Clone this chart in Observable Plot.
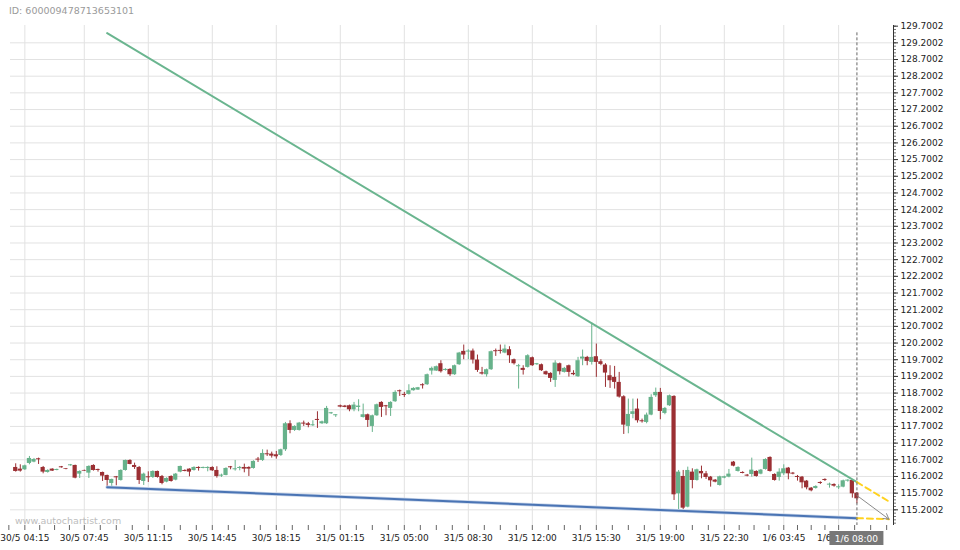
<!DOCTYPE html>
<html>
<head>
<meta charset="utf-8">
<script src="https://cdn.jsdelivr.net/npm/d3@7"></script>
<script src="https://cdn.jsdelivr.net/npm/@observablehq/plot@0.6"></script>
<style>
  html, body { margin: 0; padding: 0; background: #fff; }
  #chart { width: 960px; height: 550px; }
</style>
</head>
<body>
<div id="chart"></div>
<script>
// ---- Data (x = bar index, 15-minute bars) ----
const opens = [116.47,116.42,116.40,116.59,116.63,116.73,116.47,116.32,116.42,116.38,
  116.49,116.43,116.52,116.53,116.27,116.38,116.30,116.53,116.41,116.32,
  116.23,115.99,116.19,116.08,116.38,116.68,116.53,116.47,116.05,116.19,
  116.17,116.35,116.20,116.03,116.20,116.09,116.33,116.38,116.42,116.38,
  116.47,116.44,116.44,116.47,116.38,116.21,116.23,116.49,116.40,116.44,
  116.47,116.47,116.44,116.72,116.68,116.88,116.87,116.85,116.83,117.00,
  117.78,117.58,117.58,117.80,117.78,117.72,117.91,117.78,117.78,118.08,
  118.02,118.32,118.31,118.32,118.20,118.27,117.97,118.05,117.70,118.02,
  118.42,118.32,118.24,118.44,118.77,118.66,118.66,118.77,118.79,118.95,
  118.95,119.36,119.36,119.58,119.38,119.41,119.25,119.55,119.95,119.93,
  119.96,119.69,119.31,119.25,119.40,119.97,119.98,119.90,120.00,119.70,
  119.49,119.44,119.47,119.76,119.55,119.55,119.34,119.29,119.08,119.58,
  119.32,119.52,119.29,119.19,119.72,119.77,119.62,119.79,119.64,119.54,
  119.22,119.17,119.02,118.59,117.70,118.06,118.22,117.87,117.82,118.04,
  118.62,118.72,118.09,118.32,118.60,115.68,116.20,115.28,116.33,116.08,
  116.35,116.28,116.18,116.09,115.93,116.15,116.18,116.63,116.35,116.32,
  116.24,116.26,116.35,116.27,116.41,116.77,116.26,116.17,116.28,116.45,
  116.30,116.20,116.18,116.06,115.85,115.84,116.02,116.11,115.94,115.96,
  115.86,115.88,116.06,116.08,115.70];
const highs = [116.58,116.55,116.54,116.80,116.74,116.75,116.50,116.40,116.43,116.42,
  116.50,116.44,116.56,116.54,116.37,116.39,116.52,116.55,116.42,116.33,
  116.24,116.12,116.20,116.40,116.69,116.70,116.60,116.50,116.30,116.34,
  116.37,116.36,116.23,116.16,116.22,116.29,116.51,116.40,116.43,116.49,
  116.49,116.48,116.49,116.49,116.49,116.27,116.46,116.50,116.68,116.50,
  116.57,116.49,116.67,116.77,117.00,116.99,116.93,116.95,117.02,117.82,
  117.87,117.72,117.82,117.86,117.82,117.87,118.14,117.86,118.30,118.12,
  118.05,118.34,118.33,118.34,118.42,118.50,118.37,118.07,118.04,118.37,
  118.44,118.33,118.44,118.77,118.79,118.72,118.95,118.86,118.87,118.98,
  119.27,119.48,119.51,119.67,119.43,119.43,119.54,119.92,120.14,120.00,
  120.02,119.84,119.47,119.42,119.96,120.02,120.14,120.14,120.09,119.72,
  119.56,119.52,119.85,119.78,119.59,119.57,119.36,119.31,119.67,119.60,
  119.47,119.54,119.37,119.77,119.99,119.80,120.80,120.17,119.70,119.58,
  119.52,119.50,119.32,118.62,118.52,118.52,118.52,117.92,118.10,118.65,
  118.85,118.84,118.27,118.64,118.62,116.38,116.38,116.48,116.43,116.42,
  116.51,116.35,116.20,116.11,116.21,116.21,116.41,116.65,116.49,116.34,
  116.26,116.75,116.37,116.41,116.73,116.79,116.28,116.43,116.55,116.47,
  116.32,116.23,116.20,116.08,115.87,115.92,116.04,116.13,116.00,115.98,
  115.95,116.09,116.10,116.10,115.72];
const lows = [116.33,116.33,116.38,116.55,116.61,116.56,116.28,116.30,116.35,116.37,
  116.45,116.40,116.51,116.13,116.14,116.35,116.14,116.36,116.33,116.05,
  115.89,115.90,115.92,116.06,116.36,116.55,116.41,115.96,115.93,116.02,
  116.14,116.15,115.95,116.01,116.03,116.07,116.31,116.34,116.19,116.36,
  116.36,116.43,116.34,116.35,116.15,116.17,116.22,116.40,116.36,116.37,
  116.31,116.20,116.42,116.62,116.65,116.80,116.75,116.72,116.80,116.95,
  117.48,117.55,117.56,117.70,117.66,117.70,117.64,117.76,117.76,118.06,
  117.97,118.26,118.26,118.14,118.14,118.14,117.95,117.67,117.52,118.00,
  117.97,118.02,118.00,118.42,118.60,118.57,118.64,118.76,118.78,118.82,
  118.93,119.24,119.35,119.30,119.36,119.20,119.23,119.53,119.70,119.70,
  119.57,119.32,119.24,119.18,119.38,119.80,119.87,119.88,119.59,119.54,
  118.82,119.24,119.45,119.50,119.53,119.35,119.23,119.02,118.87,119.24,
  119.30,119.18,119.22,119.17,119.52,119.52,119.54,119.17,119.52,118.87,
  118.84,118.82,118.55,117.46,117.48,117.93,117.80,117.80,117.78,118.02,
  118.57,117.90,118.05,118.30,115.48,115.21,115.20,115.26,115.83,116.06,
  116.13,116.11,115.88,116.01,115.91,116.13,116.16,116.49,116.33,116.28,
  116.19,116.18,116.18,116.25,116.39,116.33,116.06,116.06,116.23,116.10,
  116.25,116.06,115.83,115.80,115.74,115.82,115.96,116.05,115.85,115.88,
  115.81,115.86,116.03,115.55,115.38];
const closes = [116.35,116.36,116.52,116.74,116.71,116.70,116.33,116.38,116.36,116.41,
  116.46,116.41,116.55,116.15,116.35,116.36,116.50,116.38,116.38,116.21,
  116.08,116.11,116.16,116.38,116.68,116.56,116.47,116.08,116.27,116.16,
  116.35,116.17,115.99,116.14,116.05,116.27,116.50,116.35,116.33,116.47,
  116.44,116.47,116.47,116.37,116.20,116.24,116.44,116.46,116.43,116.47,
  116.42,116.42,116.65,116.69,116.89,116.85,116.81,116.79,117.00,117.78,
  117.58,117.70,117.80,117.77,117.73,117.75,117.88,117.84,118.24,118.11,
  118.05,118.28,118.27,118.20,118.34,118.31,118.05,117.88,118.02,118.35,
  118.27,118.29,118.42,118.72,118.74,118.63,118.77,118.84,118.86,118.92,
  119.25,119.44,119.49,119.34,119.41,119.25,119.52,119.90,119.84,119.96,
  119.69,119.38,119.27,119.40,119.94,119.94,119.95,120.02,119.82,119.58,
  119.52,119.38,119.82,119.52,119.58,119.37,119.25,119.14,119.60,119.34,
  119.44,119.32,119.25,119.67,119.78,119.65,119.77,119.62,119.56,119.30,
  119.07,119.02,118.58,117.74,118.06,118.14,117.87,117.84,118.04,118.57,
  118.72,118.15,118.24,118.62,115.65,116.33,115.25,116.38,116.08,116.40,
  116.28,116.17,116.07,116.03,116.19,116.19,116.27,116.51,116.47,116.29,
  116.21,116.39,116.20,116.39,116.71,116.35,116.08,116.33,116.43,116.28,
  116.27,116.17,116.01,115.86,115.77,115.90,115.99,116.08,115.97,115.91,
  115.89,116.07,116.09,115.68,115.53];

// x-axis tick labels and their bar indices
const tickLabels = ["30/5 04:15","30/5 07:45","30/5 11:15","30/5 14:45","30/5 18:15",
  "31/5 01:15","31/5 05:00","31/5 08:30","31/5 12:00","31/5 15:30","31/5 19:00",
  "31/5 22:30","1/6 03:45","1/6 07:00"];
const tickIndex = [2,15,29,43,57,71,85,99,113,127,141,155,168,180];

// y-axis tick labels
const yTicks = [115.2002,115.7002,116.2002,116.7002,117.2002,117.7002,118.2002,118.7002,
  119.2002,119.7002,120.2002,120.7002,121.2002,121.7002,122.2002,122.7002,123.2002,
  123.7002,124.2002,124.7002,125.2002,125.7002,126.2002,126.7002,127.2002,127.7002,
  128.2002,128.7002,129.2002,129.7002];

// trend lines (bar index, price)
const trendX = [20, 184];
const resistance = [129.49, 116.03];
const support = [115.88, 114.95];
const projX = [184, 191];
const projResistance = [116.03, 115.45];
const projSupport = [114.95, 114.92];
const forecast = [115.63, 114.92];
const currentIndex = 184;
const currentLabel = "1/6 08:00";
const chartId = "ID: 600009478713653101";
const watermark = "www.autochartist.com";

// ---- Build ----
const GREEN = "#67b28b", RED = "#9b2f33";
const candles = opens.map((o, i) => ({i, o, h: highs[i], l: lows[i], c: closes[i], up: closes[i] >= o}));
const xDomain = [-1.14, 192.0];
const yDomain = [114.73, 129.72];

const minorX = [];
for (let k = 0; k < tickIndex.length; k++) {
  const a = tickIndex[k], b = k + 1 < tickIndex.length ? tickIndex[k + 1] : a + 14;
  for (let s = 1; s < 4; s++) { const v = a + (b - a) * s / 4; if (v < xDomain[1]) minorX.push(v); }
}
minorX.unshift(tickIndex[0] - 3.5);
const minorY = d3.range(0, 150).map(k => 114.8002 + 0.1 * k).filter(v => v < yDomain[1]);

const line = (xs, ys) => xs.map((x, k) => ({x, y: ys[k]}));

const plot = Plot.plot({
  width: 960, height: 550,
  marginLeft: 10, marginRight: 67, marginTop: 25, marginBottom: 25,
  x: {domain: xDomain, axis: null},
  y: {domain: yDomain, axis: null},
  style: {fontFamily: "DejaVu Sans, sans-serif", background: "#fff", overflow: "visible"},
  marks: [
    Plot.gridY(yTicks.slice(0, -1), {stroke: "#e2e2e2", strokeOpacity: 1}),
    Plot.gridX(tickIndex, {stroke: "#e2e2e2", strokeOpacity: 1}),
    Plot.ruleX(candles, {x: "i", y1: "l", y2: "h", stroke: d => d.up ? GREEN : RED, strokeWidth: 1}),
    Plot.rect(candles, {
      x1: d => d.i - 0.46, x2: d => d.i + 0.46,
      y1: d => Math.min(d.o, d.c), y2: d => Math.max(d.o, d.c),
      fill: d => d.up ? GREEN : RED
    }),
    Plot.line(line(trendX, resistance), {x: "x", y: "y", stroke: "#6ab58f", strokeWidth: 2}),
    Plot.line(line(trendX, support), {x: "x", y: "y", stroke: "#c9d6ea", strokeWidth: 3.5}),
    Plot.line(line(trendX, support), {x: "x", y: "y", stroke: "#4a74b4", strokeWidth: 2}),
    Plot.line(line(projX, projResistance), {x: "x", y: "y", stroke: "#ffd21f", strokeWidth: 2, strokeDasharray: "6,4"}),
    Plot.line(line(projX, projSupport), {x: "x", y: "y", stroke: "#ffd21f", strokeWidth: 2, strokeDasharray: "6,4"}),
    Plot.arrow([{x1: projX[0], y1: forecast[0], x2: projX[1], y2: forecast[1]}],
      {x1: "x1", y1: "y1", x2: "x2", y2: "y2", stroke: "#8a8a8a", strokeWidth: 1, headLength: 9}),
    Plot.ruleX([currentIndex], {y1: 129.5, y2: yDomain[0], stroke: "#666", strokeDasharray: "3,2", strokeWidth: 1}),
    Plot.ruleX([xDomain[1]], {stroke: "#333", strokeWidth: 1}),
    Plot.axisY({anchor: "right", ticks: minorY, tickSize: 2, tickFormat: () => "", stroke: "#777", label: null}),
    Plot.axisY({anchor: "right", ticks: yTicks, tickSize: 4, tickPadding: 3, fontSize: 9,
      tickFormat: d => d.toFixed(4), stroke: "#333", fill: "#222", label: null}),
    Plot.axisX({anchor: "bottom", ticks: minorX, tickSize: 5, tickFormat: () => "", stroke: "#666", label: null}),
    Plot.axisX({anchor: "bottom", ticks: tickIndex, tickSize: 5, tickPadding: 4, fontSize: 9,
      tickFormat: d => tickLabels[tickIndex.indexOf(d)], stroke: "#666", fill: "#222", label: null})
  ]
});

const svg = d3.select(plot);
const sx = plot.scale("x");
const cx = sx.apply(currentIndex);
const g = svg.append("g").attr("font-family", "DejaVu Sans, sans-serif").attr("text-anchor", "start");
g.append("text").attr("x", 9).attr("y", 13.5).attr("font-size", 9.5).attr("fill", "#9a9a9a")
  .attr("text-anchor", "start").text(chartId);
g.append("text").attr("x", 15).attr("y", 524).attr("font-size", 9.5).attr("fill", "#bdbdbd")
  .attr("text-anchor", "start").text(watermark);
g.append("rect").attr("x", cx - 27).attr("y", 531).attr("width", 54).attr("height", 14).attr("fill", "#777");
g.append("text").attr("x", cx).attr("y", 541.5).attr("font-size", 9).attr("fill", "#fff")
  .attr("text-anchor", "middle").text(currentLabel);

document.getElementById("chart").appendChild(plot);
</script>
</body>
</html>
